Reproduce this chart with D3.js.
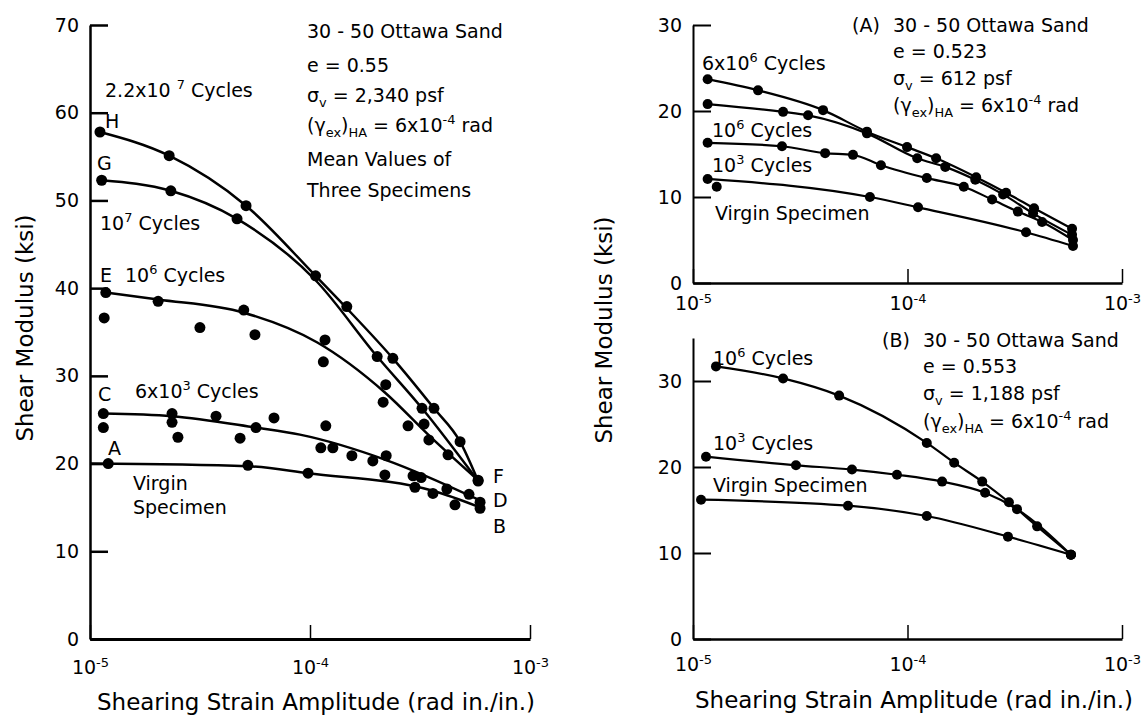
<!DOCTYPE html>
<html><head><meta charset="utf-8">
<script src="https://cdn.jsdelivr.net/npm/d3@7"></script>
<style>
body{margin:0;background:#fff}
svg{display:block}
text{font-family:"DejaVu Sans",sans-serif;fill:#000}
</style>
</head><body>
<svg id="chart" width="1145" height="720"></svg>
<script>
// ---------------- DATA ----------------
// Left panel: 30-50 Ottawa Sand, e = 0.55 (strain [rad in./in.], shear modulus [ksi])
const strainTicks = [1e-5, 1e-4, 1e-3];
const leftYTicks = [0, 10, 20, 30, 40, 50, 60, 70];
const rightTopYTicks = [0, 10, 20, 30];
const rightBotYTicks = [0, 10, 20, 30];

const leftH_dots = [[1.11e-5,57.8],[2.29e-5,55.1],[5.12e-5,49.4],[1.06e-4,41.4],[1.47e-4,37.9],[2.38e-4,32.0],[3.66e-4,26.3],[4.81e-4,22.5],[5.81e-4,18.0]];
const leftH_fit  = [[1.11e-5,57.8],[2.29e-5,55.1],[5.12e-5,49.4],[1.06e-4,41.4],[1.47e-4,37.7],[2.38e-4,32.0],[3.66e-4,26.3],[4.81e-4,22.5],[5.81e-4,18.0]];
const leftG_dots = [[1.13e-5,52.3],[2.33e-5,51.1],[4.66e-5,47.9],[2.02e-4,32.2],[3.23e-4,26.3]];
const leftG_fit  = [[1.13e-5,52.3],[2.33e-5,51.1],[4.66e-5,47.9],[1.06e-4,40.9],[2.02e-4,32.2],[3.23e-4,26.3],[5.81e-4,18.0]];
const leftE_dots = [[1.18e-5,39.5],[1.16e-5,36.6],[2.04e-5,38.5],[3.16e-5,35.5],[5.0e-5,37.5],[5.62e-5,34.7],[1.17e-4,34.1],[1.15e-4,31.6],[2.21e-4,29.0],[2.15e-4,27.0],[2.79e-4,24.3],[3.30e-4,24.5],[3.47e-4,22.7],[4.24e-4,21.0],[5.81e-4,18.1]];
const leftE_fit  = [[1.18e-5,39.5],[2.04e-5,38.7],[5.0e-5,37.2],[1.08e-4,33.8],[2.19e-4,28.1],[3.51e-4,23.1],[5.81e-4,18.1]];
const leftC_dots = [[1.15e-5,25.7],[1.15e-5,24.1],[2.36e-5,25.7],[2.36e-5,24.7],[2.51e-5,23.0],[3.74e-5,25.4],[4.81e-5,22.9],[5.68e-5,24.1],[6.86e-5,25.2],[1.18e-4,24.3],[1.12e-4,21.8],[1.27e-4,21.8],[1.55e-4,20.9],[1.93e-4,20.3],[2.22e-4,20.9],[2.19e-4,18.7],[2.94e-4,18.6],[3.20e-4,18.4],[4.19e-4,17.1],[5.28e-4,16.5],[5.93e-4,15.6]];
const leftC_fit  = [[1.15e-5,25.7],[2.36e-5,25.4],[5.68e-5,24.1],[9.0e-5,23.3],[2.22e-4,20.4],[5.93e-4,15.8]];
const leftA_dots = [[1.21e-5,20.0],[5.22e-5,19.8],[9.8e-5,18.9],[3.0e-4,17.3],[3.62e-4,16.6],[4.56e-4,15.3],[5.93e-4,14.9]];
const leftA_fit  = [[1.0e-5,20.0],[5.22e-5,19.7],[9.8e-5,18.9],[3.62e-4,16.9],[5.93e-4,15.0]];

// Right top (A): e = 0.523
const topA_6e6 = [[1.17e-5,23.7],[2.01e-5,22.4],[4.04e-5,20.1],[6.47e-5,17.6],[9.95e-5,15.8],[1.36e-4,14.5],[2.09e-4,12.3],[2.88e-4,10.5],[3.89e-4,8.7],[5.85e-4,6.3]];
const topA_1e6 = [[1.17e-5,20.8],[2.63e-5,19.9],[3.44e-5,19.5],[6.47e-5,17.4],[1.11e-4,14.5],[1.50e-4,13.5],[2.07e-4,12.0],[2.79e-4,10.3],[3.85e-4,8.1],[5.85e-4,5.6]];
const topA_1e3 = [[1.17e-5,16.3],[2.60e-5,15.9],[4.13e-5,15.1],[5.57e-5,14.9],[7.52e-5,13.7],[1.23e-4,12.2],[1.83e-4,11.2],[2.48e-4,9.7],[3.27e-4,8.3],[4.24e-4,7.1],[5.91e-4,5.0]];
const topA_virgin = [[1.17e-5,12.1],[6.68e-5,10.0],[1.12e-4,8.8],[3.57e-4,5.9],[5.91e-4,4.3]];
const topA_virginExtra = [[1.29e-5,11.2]];

// Right bottom (B): e = 0.553
const botB_1e6 = [[1.28e-5,31.7],[2.63e-5,30.3],[4.80e-5,28.3],[1.23e-4,22.8],[1.65e-4,20.5],[2.23e-4,18.3],[2.97e-4,15.9],[4.02e-4,13.1],[5.78e-4,9.8]];
const botB_1e3 = [[1.15e-5,21.2],[3.02e-5,20.2],[5.51e-5,19.7],[8.93e-5,19.1],[1.45e-4,18.3],[2.30e-4,17.0],[3.24e-4,15.1],[5.78e-4,9.8]];
const botB_virgin = [[1.09e-5,16.2],[5.28e-5,15.5],[1.23e-4,14.3],[2.94e-4,11.9],[5.78e-4,9.8]];

// ---------------- DRAW ----------------
const svg = d3.select("#chart");

function rich(x, y, parts, size) {
  size = size || 19;
  const t = svg.append("text").attr("x", x).attr("y", y).attr("font-size", size);
  let shift = 0;
  parts.forEach(p => {
    const [s, kind] = Array.isArray(p) ? p : [p, "n"];
    let target = kind === "sup" ? -8 : kind === "sub" ? 5 : 0;
    const ts = t.append("tspan").text(s).attr("dy", target - shift);
    if (kind !== "n") ts.attr("font-size", size * 0.68);
    shift = target;
  });
  return t;
}

function panel(p) {
  const x = d3.scaleLog().domain([1e-5, 1e-3]).range([p.x0, p.x1]);
  const y = d3.scaleLinear().domain([0, p.yMax]).range([p.yB, p.yT]);
  const g = svg.append("g");

  const ya = g.append("g").attr("transform", `translate(${p.x0},0)`)
    .call(d3.axisLeft(y).tickValues(p.yTicks).tickSize(-18).tickSizeOuter(0).tickPadding(11).tickFormat(d3.format("d")));
  ya.attr("font-family", null).attr("font-size", null);
  ya.selectAll("text").attr("font-size", 19);
  ya.select(".domain").attr("stroke-width", p.aw);
  ya.selectAll(".tick line").attr("stroke-width", p.aw);

  const xa = g.append("g").attr("transform", `translate(0,${p.yB})`)
    .call(d3.axisBottom(x).tickValues(strainTicks).tickSize(-14).tickSizeOuter(0).tickPadding(p.xPad).tickFormat(() => ""));
  xa.attr("font-family", null).attr("font-size", null);
  xa.select(".domain").attr("stroke-width", p.aw + 0.5);
  xa.selectAll(".tick line").attr("stroke-width", 1.5);
  xa.selectAll(".tick text").each(function(d) {
    const t = d3.select(this).attr("font-size", 19);
    t.append("tspan").text("10");
    t.append("tspan").text("-" + Math.abs(Math.round(Math.log10(d)))).attr("dy", -7).attr("font-size", 13);
  });

  const line = d3.line().x(d => x(d[0])).y(d => y(d[1])).curve(d3.curveMonotoneX);
  p.lines.forEach(L => {
    g.append("path").datum(L).attr("d", line).attr("fill", "none").attr("stroke", "#000").attr("stroke-width", p.lw);
  });
  p.dots.forEach(D => {
    g.selectAll(null).data(D).enter().append("circle")
      .attr("cx", d => x(d[0])).attr("cy", d => y(d[1])).attr("r", p.r).attr("fill", "#000");
  });
}

panel({x0: 90, x1: 530, yT: 25, yB: 639, yMax: 70, yTicks: leftYTicks, xPad: 22, aw: 2.5, lw: 2.5, r: 5.5,
  lines: [leftH_fit, leftG_fit, leftE_fit, leftC_fit, leftA_fit],
  dots: [leftH_dots, leftG_dots, leftE_dots, leftC_dots, leftA_dots]});

panel({x0: 693, x1: 1122, yT: 25, yB: 283, yMax: 30, yTicks: rightTopYTicks, xPad: 14, aw: 2, lw: 2.2, r: 5,
  lines: [topA_6e6, topA_1e6, topA_1e3, topA_virgin],
  dots: [topA_6e6, topA_1e6, topA_1e3, topA_virgin, topA_virginExtra]});

panel({x0: 693, x1: 1122, yT: 338, yB: 639, yMax: 35, yTicks: rightBotYTicks, xPad: 19, aw: 2, lw: 2.2, r: 5,
  lines: [botB_1e6, botB_1e3, botB_virgin],
  dots: [botB_1e6, botB_1e3, botB_virgin]});

// ---- Axis titles ----
svg.append("text").attr("transform", "translate(33,328) rotate(-90)").attr("text-anchor", "middle").attr("font-size", 23).text("Shear Modulus (ksi)");
svg.append("text").attr("transform", "translate(612,330) rotate(-90)").attr("text-anchor", "middle").attr("font-size", 23).text("Shear Modulus (ksi)");
svg.append("text").attr("x", 316).attr("y", 710).attr("text-anchor", "middle").attr("font-size", 23).text("Shearing Strain Amplitude (rad in./in.)");
svg.append("text").attr("x", 914).attr("y", 708).attr("text-anchor", "middle").attr("font-size", 23).text("Shearing Strain Amplitude (rad in./in.)");

// ---- Left annotations ----
rich(307, 38, ["30 - 50 Ottawa Sand"]);
rich(307, 72, ["e = 0.55"]);
rich(307, 102, ["σ", ["v","sub"], [" = 2,340 psf","n"]]);
rich(307, 132, ["(γ", ["ex","sub"], [")","n"], ["HA","sub"], [" = 6x10","n"], ["-4","sup"], [" rad","n"]]);
rich(307, 166, ["Mean Values of"]);
rich(307, 197, ["Three Specimens"]);
rich(105, 97, ["2.2x10 ", ["7","sup"], [" Cycles","n"]]);
rich(105, 128, ["H"]);
rich(97, 170, ["G"]);
rich(100, 230, ["10", ["7","sup"], [" Cycles","n"]]);
rich(100, 282, ["E"]);
rich(125, 282, ["10", ["6","sup"], [" Cycles","n"]]);
rich(98, 401, ["C"]);
rich(135, 398, ["6x10", ["3","sup"], [" Cycles","n"]]);
rich(108, 455, ["A"]);
rich(133, 490, ["Virgin"]);
rich(133, 514, ["Specimen"]);
rich(493, 483, ["F"]);
rich(493, 507, ["D"]);
rich(493, 533, ["B"]);

// ---- Right top annotations ----
rich(852, 32, ["(A)"]);
rich(893, 32, ["30 - 50 Ottawa Sand"]);
rich(893, 58, ["e = 0.523"]);
rich(893, 85, ["σ", ["v","sub"], [" = 612 psf","n"]]);
rich(893, 112, ["(γ", ["ex","sub"], [")","n"], ["HA","sub"], [" = 6x10","n"], ["-4","sup"], [" rad","n"]]);
rich(702, 70, ["6x10", ["6","sup"], [" Cycles","n"]]);
rich(712, 137, ["10", ["6","sup"], [" Cycles","n"]]);
rich(712, 172, ["10", ["3","sup"], [" Cycles","n"]]);
rich(715, 220, ["Virgin Specimen"]);

// ---- Right bottom annotations ----
rich(882, 347, ["(B)"]);
rich(923, 347, ["30 - 50 Ottawa Sand"]);
rich(923, 373, ["e = 0.553"]);
rich(923, 400, ["σ", ["v","sub"], [" = 1,188 psf","n"]]);
rich(923, 428, ["(γ", ["ex","sub"], [")","n"], ["HA","sub"], [" = 6x10","n"], ["-4","sup"], [" rad","n"]]);
rich(713, 365, ["10", ["6","sup"], [" Cycles","n"]]);
rich(713, 450, ["10", ["3","sup"], [" Cycles","n"]]);
rich(713, 492, ["Virgin Specimen"]);
</script>
</body></html>
